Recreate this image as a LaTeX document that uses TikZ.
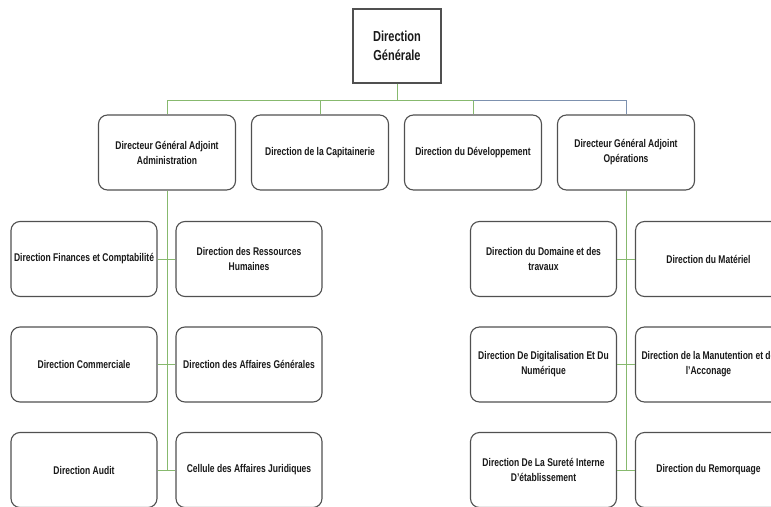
\documentclass[tikz,border=0pt]{standalone}
\usepackage{fontspec}
\setmainfont{Liberation Sans}[FakeStretch=0.76]
\definecolor{boxline}{RGB}{80,80,80}
\definecolor{txt}{RGB}{25,25,25}
\definecolor{gline}{RGB}{135,185,110}
\definecolor{bline}{RGB}{125,145,175}
\begin{document}
\begin{tikzpicture}[x=1pt,y=-1pt,
  unit/.style={draw=boxline,line width=1.1pt,fill=white,rounded corners=9pt,
    minimum width=146pt,minimum height=75pt,align=center,inner sep=2pt,
    text=txt,font=\fontsize{11.2}{15}\selectfont\bfseries},
  midunit/.style={unit,minimum width=137pt},
  topunit/.style={draw=boxline,line width=1.4pt,fill=white,minimum width=88pt,
    minimum height=74pt,align=center,text=txt,font=\fontsize{14.5}{19.5}\selectfont\bfseries},
  gconn/.style={draw=gline,line width=1pt},
  bconn/.style={draw=bline,line width=1pt}]
\clip (0,0) rectangle (771,506);
\fill[white] (0,0) rectangle (771,506);
% top
\node[topunit] (dg) at (397,46) {Direction\\Générale};
% second level
\node[midunit] (dgaa) at (167,152.5) {Directeur Général Adjoint\\Administration};
\node[midunit] (cap) at (320,152.5) {Direction de la Capitainerie};
\node[midunit] (dev) at (473,152.5) {Direction du Développement};
\node[midunit] (dgao) at (626,152.5) {Directeur Général Adjoint\\Opérations};
% left children
\node[unit] (fin) at (84,259) {Direction Finances et Comptabilité};
\node[unit] (rh) at (249,259) {Direction des Ressources\\Humaines};
\node[unit] (com) at (84,364.5) {Direction Commerciale};
\node[unit] (ag) at (249,364.5) {Direction des Affaires Générales};
\node[unit] (aud) at (84,470) {Direction Audit};
\node[unit] (jur) at (249,470) {Cellule des Affaires Juridiques};
% right children
\node[unit] (dom) at (543.5,259) {Direction du Domaine et des\\travaux};
\node[unit] (mat) at (708.5,259) {Direction du Matériel};
\node[unit] (dig) at (543.5,364.5) {Direction De Digitalisation Et Du\\Numérique};
\node[unit] (man) at (708.5,364.5) {Direction de la Manutention et de\\l'Acconage};
\node[unit] (sur) at (543.5,470) {Direction De La Sureté Interne\\D'établissement};
\node[unit] (rem) at (708.5,470) {Direction du Remorquage};
% connectors top
\coordinate (bar) at (397,100);
\coordinate (jdev) at (473,100);
\path[gconn] (dg.south) -- (bar);
\path[gconn] (bar) -| (dgaa.north);
\path[gconn] (bar) -| (cap.north);
\path[gconn] (bar) -| (dev.north);
\path[bconn] (jdev) -| (dgao.north);
% left trunk
\path[gconn] (dgaa.south) -- (dgaa.south |- aud.east);
\path[gconn] (fin.east) -- (rh.west);
\path[gconn] (com.east) -- (ag.west);
\path[gconn] (aud.east) -- (jur.west);
% right trunk
\path[gconn] (dgao.south) -- (dgao.south |- sur.east);
\path[gconn] (dom.east) -- (mat.west);
\path[gconn] (dig.east) -- (man.west);
\path[gconn] (sur.east) -- (rem.west);
\end{tikzpicture}
\end{document}
